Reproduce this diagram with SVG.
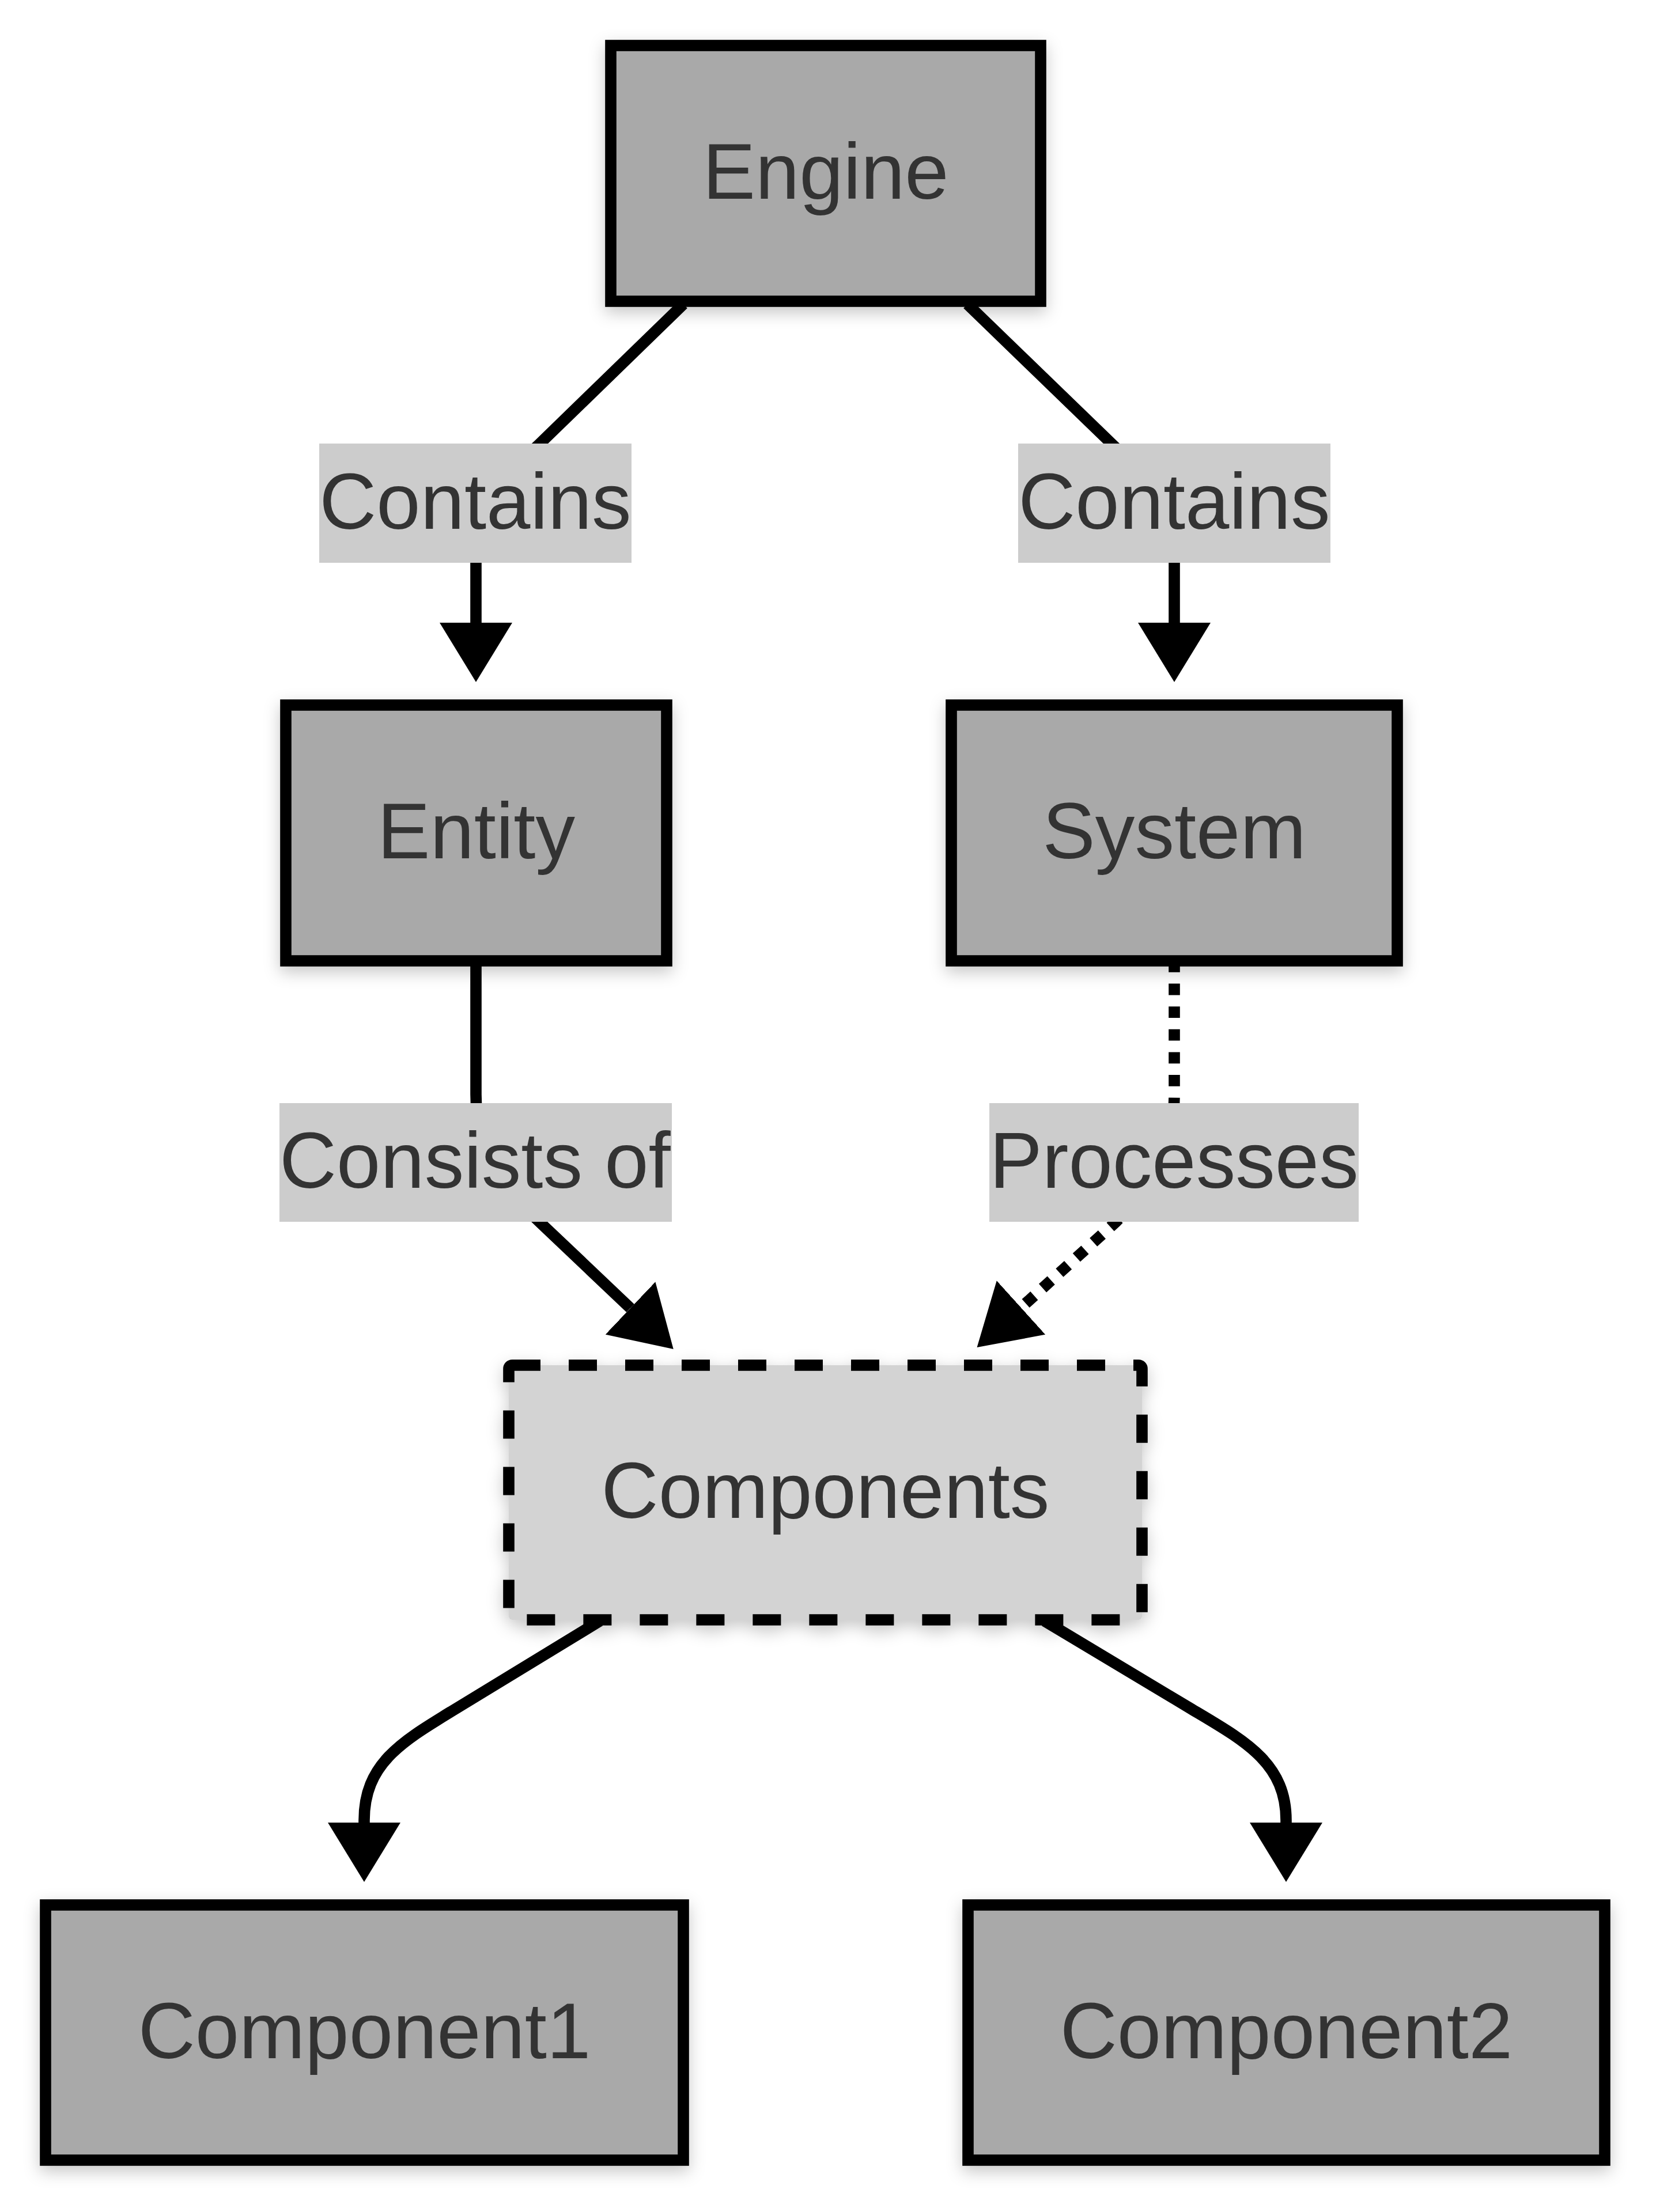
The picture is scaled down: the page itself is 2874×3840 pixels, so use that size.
<svg xmlns="http://www.w3.org/2000/svg" width="2874" height="3840" viewBox="0 0 2874 3840">
<style>
.node rect { fill:#a9a9a9; stroke:#000; stroke-width:19.6; filter:url(#shadow); }
.node.comp rect { fill:#d3d3d3; stroke-dasharray:49 49; }
text { font-family:"Liberation Sans", Arial, sans-serif; font-size:137.2px; fill:#333333; }
.edge { fill:none; stroke:#000; stroke-width:19.6; }
.dotted { stroke-dasharray:19.8 19.8; }
.lbl rect { fill:#cccccc; }
</style>
<defs>
<filter id="shadow" x="-20%" y="-20%" width="140%" height="150%">
<feDropShadow dx="0" dy="10" stdDeviation="14" flood-color="#000" flood-opacity="0.22"/>
</filter>
<marker id="arrow" markerUnits="userSpaceOnUse" markerWidth="104" markerHeight="126" refX="0" refY="63" orient="auto" viewBox="0 0 104 126">
<path d="M0,0 L103,63 L0,126 z" fill="#000" stroke="none"/>
</marker>
<clipPath id="clipConsists"><rect x="485" y="1915" width="681" height="206"/></clipPath>
</defs>
<rect width="2874" height="3840" fill="#ffffff"/>
<g id="connectors">
<path class="edge" d="M1186,528 L937,770 C860,843 826,880 826,960 L826,1081" marker-end="url(#arrow)"/>
<path class="edge" d="M1679,528 L1929,770 C2005,843 2038,880 2038,960 L2038,1081" marker-end="url(#arrow)"/>
<path class="edge" d="M826,1668 L826,1900 C826,1990 870,2058 936,2121 L1094,2271" marker-end="url(#arrow)"/>
<path class="edge dotted" d="M2038,1668 L2038,1900 C2038,1990 1998,2058 1937,2121 L1772,2270" marker-end="url(#arrow)"/>
<path class="edge" d="M1041,2814 L790,2967 C700,3022 632,3060 632,3160 L632,3164" marker-end="url(#arrow)"/>
<path class="edge" d="M1813,2814 L2068,2967 C2160,3022 2232,3060 2232,3160 L2232,3164" marker-end="url(#arrow)"/>
</g>
<g id="label-contains-1" class="lbl">
<rect x="554" y="770" width="542" height="207"/>
<text x="825" y="918" text-anchor="middle">Contains</text>
</g>
<g id="label-contains-2" class="lbl">
<rect x="1767" y="770" width="542" height="207"/>
<text x="2038" y="918" text-anchor="middle">Contains</text>
</g>
<g id="label-consists" class="lbl">
<rect x="485" y="1915" width="681" height="206"/>
<text x="485" y="2062" clip-path="url(#clipConsists)">Consists of</text>
</g>
<g id="label-processes" class="lbl">
<rect x="1717" y="1915" width="641" height="206"/>
<text x="2037.5" y="2062" text-anchor="middle">Processes</text>
</g>
<g id="Engine" class="node">
<rect x="1060" y="79" width="746" height="444"/>
<text x="1433" y="345" text-anchor="middle">Engine</text>
</g>
<g id="Entity" class="node">
<rect x="496" y="1224" width="661" height="444"/>
<text x="826.5" y="1490" text-anchor="middle">Entity</text>
</g>
<g id="System" class="node">
<rect x="1651" y="1224" width="774" height="444"/>
<text x="2038" y="1490" text-anchor="middle">System</text>
</g>
<g id="Components" class="node comp">
<rect x="883" y="2370" width="1099" height="442" rx="6"/>
<text x="1432.5" y="2635" text-anchor="middle">Components</text>
</g>
<g id="Component1" class="node">
<rect x="79" y="3307" width="1107" height="443"/>
<text x="632.5" y="3573" text-anchor="middle">Component1</text>
</g>
<g id="Component2" class="node">
<rect x="1680" y="3307" width="1105" height="443"/>
<text x="2232.5" y="3573" text-anchor="middle">Component2</text>
</g>
</svg>
